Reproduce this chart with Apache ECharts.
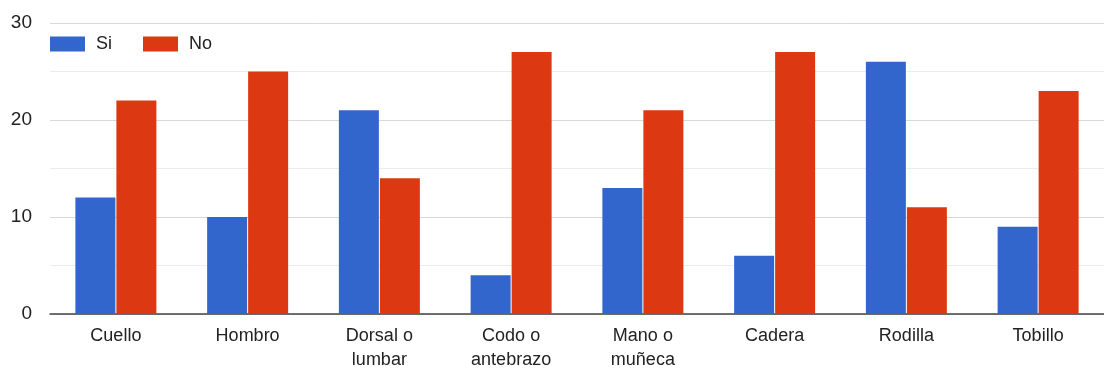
<!DOCTYPE html>
<html>
<head>
<meta charset="utf-8">
<script src="https://cdn.jsdelivr.net/npm/echarts@6/dist/echarts.min.js"></script>
<style>
  html, body { margin: 0; padding: 0; background: #fff; }
  #chart { width: 1104px; height: 368px; }
</style>
</head>
<body>
<div id="chart"></div>
<script>
const categories = ['Cuello', 'Hombro', 'Dorsal o\nlumbar', 'Codo o\nantebrazo', 'Mano o\nmuñeca', 'Cadera', 'Rodilla', 'Tobillo'];
const siValues = [12, 10, 21, 4, 13, 6, 26, 9];
const noValues = [22, 25, 14, 27, 21, 27, 11, 23];
const yTicks = [0, 10, 20, 30];

const chart = echarts.init(document.getElementById('chart'));
const font = 'Liberation Sans, Arial, sans-serif';

chart.setOption({
  animation: false,
  color: ['#3366cc', '#dc3912'],
  legend: {
    left: 50,
    top: 35,
    padding: 0,
    itemWidth: 35,
    itemHeight: 15,
    itemGap: 31,
    icon: 'rect',
    textStyle: { fontFamily: font, fontSize: 18, color: '#222', padding: [0, 0, 0, 6] },
    data: ['Si', 'No']
  },
  grid: { left: 50, right: 0, top: 23, bottom: 54, outerBoundsMode: 'none', containLabel: false },
  xAxis: {
    type: 'category',
    data: categories,
    axisTick: { show: false },
    axisLine: { lineStyle: { color: '#444', width: 1.5 } },
    axisLabel: {
      fontFamily: font, fontSize: 18, color: '#222',
      margin: 10, lineHeight: 24, interval: 0
    }
  },
  yAxis: {
    type: 'value',
    min: 0,
    max: 30,
    interval: 10,
    axisLine: { show: false },
    axisTick: { show: false },
    axisLabel: {
      fontFamily: font, fontSize: 19, color: '#222', margin: 18,
      formatter: v => yTicks.includes(v) ? String(v) : ''
    },
    splitLine: { lineStyle: { color: '#d9d9d9', width: 1 } },
    minorTick: { show: false, splitNumber: 2 },
    minorSplitLine: { show: true, lineStyle: { color: '#ececec', width: 1 } }
  },
  series: [
    { name: 'Si', type: 'bar', data: siValues, barWidth: 40, barGap: '2.5%' },
    { name: 'No', type: 'bar', data: noValues, barWidth: 40, barGap: '2.5%' }
  ]
});
</script>
</body>
</html>
